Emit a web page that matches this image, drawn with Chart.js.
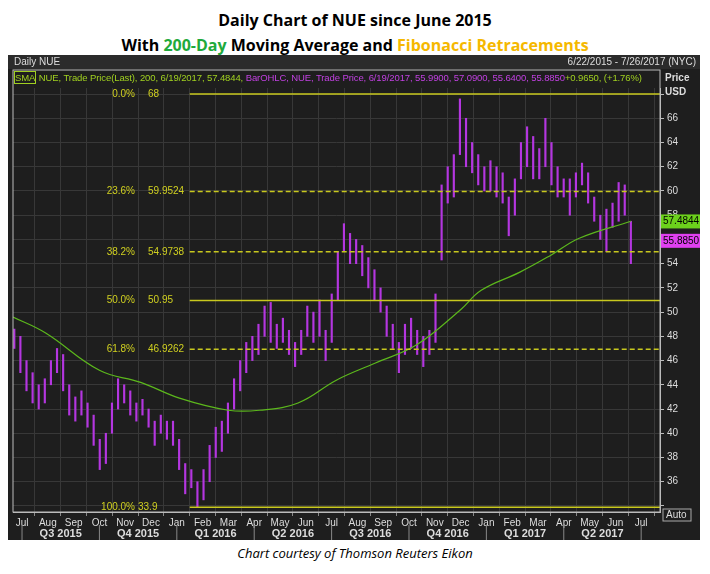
<!DOCTYPE html>
<html>
<head>
<meta charset="utf-8">
<script src="https://cdn.jsdelivr.net/npm/chart.js@4"></script>
<style>
  body { margin:0; background:#fff; width:710px; height:574px; position:relative; font-family:"Open Sans", "Liberation Sans", sans-serif; }
  .title { position:absolute; left:0; width:710px; text-align:center; font-weight:bold; font-size:16px; color:#000; }
  #panel { position:absolute; left:8px; top:55px; width:692px; height:485px; background:#1e1e1e; }
  #hdr { position:absolute; left:8px; top:55px; width:692px; height:14px; background:#2b2b2b; color:#ddd; font-size:10px; font-family:"Liberation Sans Narrow",sans-serif; }
  #leg { position:absolute; left:14px; top:72px; font-size:9.5px; letter-spacing:-0.1px; color:#a0d020; font-family:"Liberation Sans Narrow",sans-serif; white-space:nowrap; }
  .cap { position:absolute; top:544px; left:0; width:710px; text-align:center; font-style:italic; font-size:13px; color:#000; }
</style>
</head>
<body>
<div class="title" style="top:9px">Daily Chart of NUE since June 2015</div>
<div class="title" style="top:34px">With <span style="color:#1faa3c">200-Day</span> Moving Average and <span style="color:#f5b800">Fibonacci Retracements</span></div>
<div id="panel"><canvas id="c" width="692" height="485"></canvas></div>
<div id="hdr"><span style="position:absolute;left:6px;top:1px">Daily NUE</span><span style="position:absolute;right:4px;top:1px">6/22/2015 - 7/26/2017 (NYC)</span></div>
<div id="leg"><span style="border:1px solid #a0d020">SMA</span> NUE, Trade Price(Last), 200, 6/19/2017, 57.4844, <span style="color:#c040e0">BarOHLC, NUE, Trade Price, 6/19/2017, 55.9900, 57.0900, 55.6400, 55.8850</span>+0.9650, (+1.76%)</div>
<div class="cap">Chart courtesy of Thomson Reuters Eikon</div>
<script>
// ----------------- DATA -----------------
// weekly low / high of NUE, 6/22/2015 .. 6/19/2017
var weekLow = [47,
  45,43.5,42.5,42, 42.5,44,45,43.5, 41.5,41,41.5,40.5, 39,37,37.5,40,42,
  42.5,41.5,41,41.5, 40.5,39,40,39.5, 39,37,35,35.5,33.9, 34.5,36,38,38.5,
  40,42,43.5,45, 46,46.5,48,47.5,47, 47.5,46.5,45.5,46.5, 48,47.5,48,46,
  47.5,51,55,54, 54,53,52,51,50, 48,47,45,46.5, 47,46.5,45.5,46.5,
  47.5,54.3,59,59.5, 63,62,61.5,60.5,60, 60,59.5,59,56.3, 58,61,62,61,
  61,62,60.5,59.5,59.5, 58,59.5,60.5,59, 57.5,56,55,57, 57.5,58,54];
var weekHigh = [48.6,
  48,46,45,44, 44.5,46,47,46.5, 44,43,43.5,42.5, 41.5,39.5,40,42.5,44.5,
  44,43.5,42.5,42.8, 42,41,41.5,41, 41,39.5,37.5,37,36, 37,39,40.5,41,
  42.5,44.5,46,47.5, 48,49,50.5,50.8,49, 49.5,48.5,47.5,48.5, 50.5,50,51,48.5,
  51.5,55,57.3,56.5, 56,55.5,54.5,53.5,52, 50.5,49,47.5,49, 49.5,48.5,48,48.5,
  51.5,60.5,62,63, 67.6,66,64,63,62, 62.5,62,61.5,59.5, 61,64,65.3,64.5,
  63.5,66,64,62,61, 61,61.5,62.3,61.5, 59.5,58,58.5,59, 60.7,60.5,57.5];
// 200-day SMA, sampled (months since Jul 2015 -> value)
var smaX = [-0.35, 0.9, 3.0, 4.6, 6.1, 8.0, 9.2, 10.7, 12.2, 13.7, 15.3, 17.0, 17.8, 19.3, 20.5, 21.6, 23.6];
var smaY = [49.6, 48.3, 45.2, 44.2, 42.9, 41.9, 41.9, 42.5, 44.4, 45.8, 47.3, 50.2, 51.8, 53.3, 54.7, 56.1, 57.5];
// Fibonacci retracement levels
var fibPct = ['0.0%', '23.6%', '38.2%', '50.0%', '61.8%', '100.0%'];
var fibVal = [68, 59.9524, 54.9738, 50.95, 46.9262, 33.9];
var fibTxt = ['68', '59.9524', '54.9738', '50.95', '46.9262', '33.9'];
var fibDash = [false, true, true, false, true, false];
var months = ['Jul','Aug','Sep','Oct','Nov','Dec','Jan','Feb','Mar','Apr','May','Jun'];
var quarters = ['Q3 2015','Q4 2015','Q1 2016','Q2 2016','Q3 2016','Q4 2016','Q1 2017','Q2 2017'];
var lastSma = 57.4844, lastPrice = 55.885;

// ----------------- BUILD -----------------
var wk0 = -0.3, wkStep = (23.6 - wk0) / (weekLow.length - 1);
var bars = [];
for (var i = 0; i < weekLow.length; i++) {
  bars.push({x: wk0 + i * wkStep, y: [weekLow[i], weekHigh[i]]});
}
var sma = smaX.map(function(x, i){ return {x: x, y: smaY[i]}; });
var fibStart = 6.5, fibEnd = 24.73;
var datasets = [
  {type:'bar', data: bars, backgroundColor:'#b436e0', barThickness:1.5, maxBarThickness:1.5, grouped:false, order:2},
  {type:'line', data: sma, borderColor:'#5cb81c', borderWidth:1.2, pointRadius:0, tension:0.4, order:1}
];
fibVal.forEach(function(v, i){
  datasets.push({type:'line', data:[{x:fibStart, y:v},{x:fibEnd, y:v}], borderColor:'#c8c81e',
    borderWidth:1.5, borderDash: fibDash[i] ? [5,3] : [], pointRadius:0, order:0});
});

var overlay = {
  id:'overlay',
  afterDraw: function(ch){
    var c = ch.ctx, xs = ch.scales.x, ys = ch.scales.y, a = ch.chartArea;
    c.save();
    c.font = '10px "Liberation Sans Narrow", sans-serif';
    c.textBaseline = 'middle';
    fibVal.forEach(function(v, i){
      var y = ys.getPixelForValue(v);
      c.fillStyle = '#d0d020';
      c.textAlign = 'right';
      c.fillText(fibPct[i], 127, y);
      c.textAlign = 'left';
      c.fillText(fibTxt[i], i == 5 ? 130 : 140, y);
    });
    // border
    c.strokeStyle = '#bbb'; c.lineWidth = 1;
    c.strokeRect(a.left, a.top - 18, a.right - a.left, a.bottom - a.top + 18);
    // price tags
    function tag(v, txt, bg, fg){
      var y = ys.getPixelForValue(v);
      c.fillStyle = bg; c.fillRect(a.right + 1, y - 7, 39, 14);
      c.fillStyle = fg; c.textAlign = 'left'; c.font = '10px "Liberation Sans Narrow", sans-serif';
      c.fillText(txt, a.right + 3, y);
    }
    tag(lastSma, lastSma.toFixed(4), '#6cd11c', '#000');
    tag(lastPrice, lastPrice.toFixed(4), '#e040f0', '#000');
    c.fillStyle = '#ddd'; c.font = 'bold 10px "Liberation Sans Narrow", sans-serif';
    c.fillText('Price', a.right + 5, a.top - 10);
    c.fillText('USD', a.right + 5, a.top + 4);
    // Auto box
    c.strokeStyle = '#aaa'; c.strokeRect(a.right + 3, a.bottom - 3, 28, 12);
    c.font = '10px "Liberation Sans Narrow", sans-serif'; c.fillText('Auto', a.right + 6, a.bottom + 3);
    // quarter labels + separators
    c.fillStyle = '#ddd'; c.font = 'bold 11px "Liberation Sans Narrow", sans-serif'; c.textAlign = 'center';
    quarters.forEach(function(q, i){
      var x0 = xs.getPixelForValue(i * 3), x1 = xs.getPixelForValue(i * 3 + 3);
      c.fillText(q, (x0 + x1) / 2, a.bottom + 22);
      c.strokeStyle = '#888';
      c.beginPath(); c.moveTo(x0, a.bottom + 13); c.lineTo(x0, a.bottom + 28); c.stroke();
    });
    var xe = xs.getPixelForValue(24);
    c.beginPath(); c.moveTo(xe, a.bottom + 13); c.lineTo(xe, a.bottom + 28); c.stroke();
    c.restore();
  }
};

new Chart(document.getElementById('c'), {
  type:'bar',
  data:{datasets: datasets},
  plugins:[overlay],
  options:{
    responsive:false, animation:false,
    layout:{padding:{top:33, left:5, right:0, bottom:0}},
    plugins:{legend:{display:false}, tooltip:{enabled:false}},
    scales:{
      x:{type:'linear', min:-0.35, max:24.73, offset:false,
        afterFit:function(s){ s.height = 28; },
        afterBuildTicks:function(s){ var t=[]; for (var v=0; v<=24; v++) t.push({value:v}); s.ticks=t; },
        ticks:{autoSkip:false, color:'#ddd', padding:1, maxRotation:0,
          font:{size:10, family:'"Liberation Sans Narrow", sans-serif'},
          callback:function(v){ return months[v % 12]; }},
        grid:{color:'#383838', tickLength:4, tickColor:'#888'}, border:{color:'#bbb'}},
      y:{position:'right', min:33.5, max:68.5,
        afterFit:function(s){ s.width = 40; },
        afterBuildTicks:function(s){ var t=[]; for (var v=34; v<=68; v+=2) t.push({value:v}); s.ticks=t; },
        ticks:{color:'#ddd', padding:3, font:{size:10, family:'"Liberation Sans Narrow", sans-serif'},
          callback:function(v){ return (v >= 36 && v <= 66) ? v : ''; }},
        grid:{color:'#383838', tickLength:4, tickColor:'#bbb'}, border:{color:'#bbb'}}
    }
  }
});
</script>
</body>
</html>
